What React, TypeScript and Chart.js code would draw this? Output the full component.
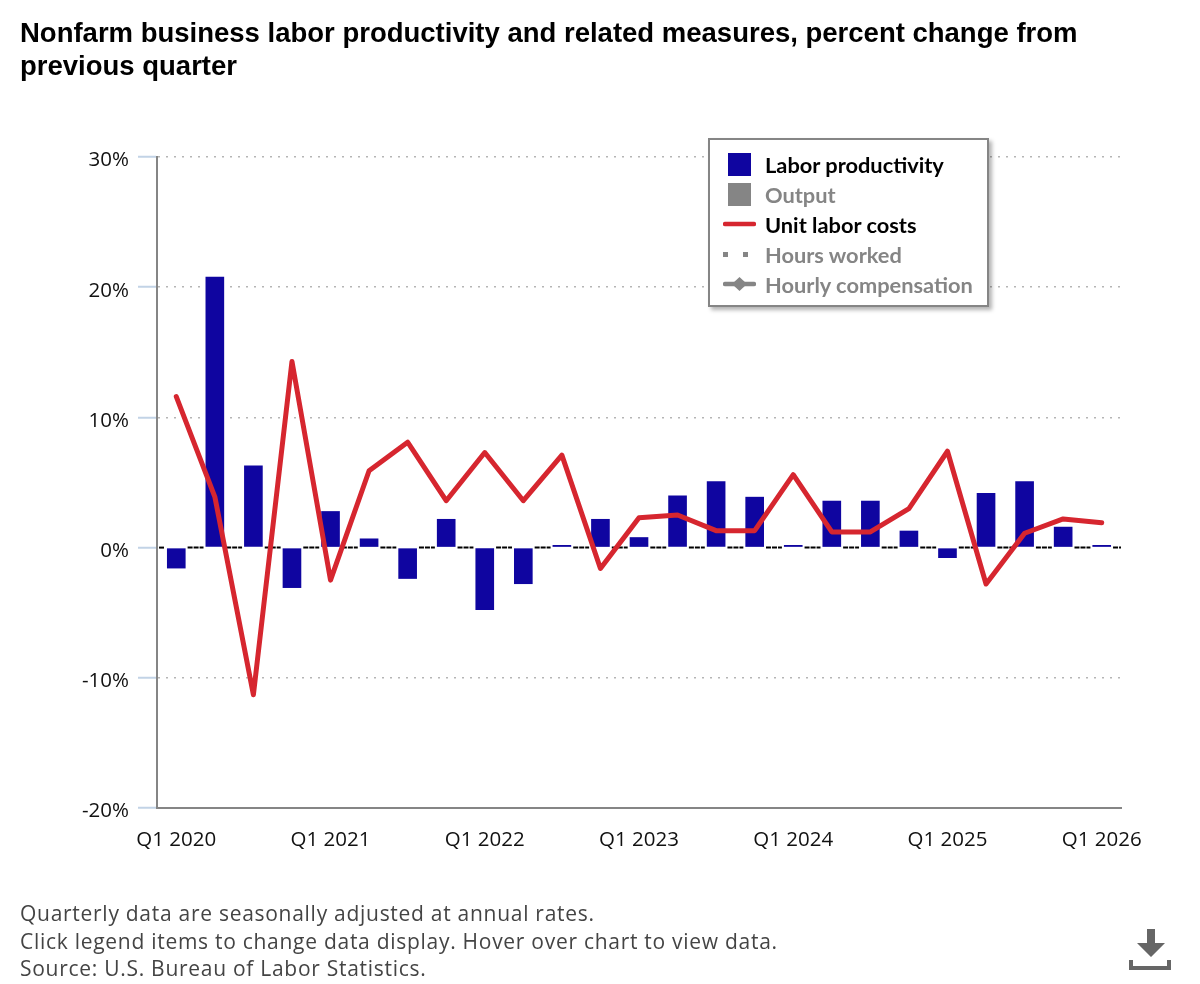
import { useEffect, useRef } from "react";
import { Chart, registerables } from "chart.js";

Chart.register(...registerables);

const quarters = [
  "Q1 2020", "Q2 2020", "Q3 2020", "Q4 2020",
  "Q1 2021", "Q2 2021", "Q3 2021", "Q4 2021",
  "Q1 2022", "Q2 2022", "Q3 2022", "Q4 2022",
  "Q1 2023", "Q2 2023", "Q3 2023", "Q4 2023",
  "Q1 2024", "Q2 2024", "Q3 2024", "Q4 2024",
  "Q1 2025", "Q2 2025", "Q3 2025", "Q4 2025",
  "Q1 2026",
];
const laborProductivity = [
  -1.6, 20.8, 6.3, -3.1, 2.8, 0.7, -2.4, 2.2, -4.8, -2.8, 0.2, 2.2, 0.8, 4.0,
  5.1, 3.9, 0.2, 3.6, 3.6, 1.3, -0.8, 4.2, 5.1, 1.6, 0.2,
];
const unitLaborCosts = [
  11.6, 3.9, -11.3, 14.3, -2.5, 5.9, 8.1, 3.6, 7.3, 3.6, 7.1, -1.6, 2.3, 2.5,
  1.3, 1.3, 5.6, 1.2, 1.2, 3.0, 7.4, -2.8, 1.1, 2.2, 1.9,
];
const titleLines = [
  "Nonfarm business labor productivity and related measures, percent change from",
  "previous quarter",
];
const footerLines = [
  "Quarterly data are seasonally adjusted at annual rates.",
  "Click legend items to change data display. Hover over chart to view data.",
  "Source: U.S. Bureau of Labor Statistics.",
];

const BLUE = "#0f05a0";
const RED = "#d6262f";
const GREY = "#858585";

// dashed zero line, only in the gaps between the bars
const zeroLinePlugin = {
  id: "zeroLine",
  beforeDatasetsDraw(chart: any) {
    const { ctx, chartArea, scales } = chart;
    const y = scales.y.getPixelForValue(0);
    const barMeta = chart.getDatasetMeta(1);
    const bars = barMeta.data;
    ctx.save();
    ctx.strokeStyle = "#000";
    ctx.lineWidth = 2;
    ctx.setLineDash([5, 1]);
    let start = chartArea.left + 2;
    bars.forEach((bar: any) => {
      const halfWidth = bar.width / 2;
      ctx.beginPath();
      ctx.moveTo(start, y);
      ctx.lineTo(bar.x - halfWidth - 2, y);
      ctx.stroke();
      start = bar.x + halfWidth + 2;
    });
    ctx.beginPath();
    ctx.moveTo(start, y);
    ctx.lineTo(chartArea.right, y);
    ctx.stroke();
    ctx.restore();
  },
};

const Swatch = ({ kind }: { kind: string }) => {
  if (kind === "bar" || kind === "barGrey") {
    return (
      <div
        style={{
          width: 23,
          height: 23,
          marginLeft: 5,
          background: kind === "bar" ? BLUE : GREY,
        }}
      />
    );
  }
  return (
    <svg width="33" height="14" viewBox="0 0 33 14" style={{ display: "block" }}>
      {kind === "line" && (
        <line x1="2" y1="7" x2="31" y2="7" stroke={RED} strokeWidth="4.5" strokeLinecap="round" />
      )}
      {kind === "dots" && (
        <>
          <rect x="0" y="5" width="5" height="5" fill={GREY} />
          <rect x="20" y="5" width="5" height="5" fill={GREY} />
        </>
      )}
      {kind === "diamond" && (
        <>
          <line x1="2" y1="7" x2="31" y2="7" stroke={GREY} strokeWidth="4.5" strokeLinecap="round" />
          <path d="M16.5 0 L24 7 L16.5 14 L9 7 Z" fill={GREY} />
        </>
      )}
    </svg>
  );
};

const legendItems = [
  { label: "Labor productivity", kind: "bar", active: true },
  { label: "Output", kind: "barGrey", active: false },
  { label: "Unit labor costs", kind: "line", active: true },
  { label: "Hours worked", kind: "dots", active: false },
  { label: "Hourly compensation", kind: "diamond", active: false },
];

export default function App() {
  const chartRef = useRef<HTMLCanvasElement>(null);

  useEffect(() => {
    document.body.style.margin = "0";
    if (!chartRef.current) return;

    const chart = new Chart(chartRef.current, {
      type: "bar",
      plugins: [zeroLinePlugin],
      data: {
        labels: quarters,
        datasets: [
          {
            type: "line",
            label: "Unit labor costs",
            data: unitLaborCosts,
            borderColor: RED,
            borderWidth: 5,
            borderJoinStyle: "round",
            borderCapStyle: "round",
            pointRadius: 0,
            tension: 0,
            order: 1,
          },
          {
            type: "bar",
            label: "Labor productivity",
            data: laborProductivity,
            backgroundColor: BLUE,
            borderWidth: 0,
            barPercentage: 0.93,
            categoryPercentage: 0.52,
            order: 2,
          },
        ],
      },
      options: {
        responsive: false,
        animation: false,
        layout: { padding: { top: 157, right: 79, bottom: 0, left: 0 } },
        plugins: {
          legend: { display: false },
          title: { display: false },
          tooltip: { enabled: false },
        },
        scales: {
          x: {
            grid: { display: false },
            border: { color: GREY, width: 2 },
            afterFit: (scale: any) => {
              scale.height = 984 - 808;
            },
            ticks: {
              autoSkip: false,
              maxRotation: 0,
              padding: 12,
              color: "#111",
              font: { family: "'Open Sans'", size: 20.5 },
              callback: (_v: any, i: number) =>
                i % 4 === 0 ? quarters[i] : "",
            },
          },
          y: {
            min: -20,
            max: 30,
            afterFit: (scale: any) => {
              scale.width = 157;
            },
            border: { color: GREY, width: 2, dash: [2, 6] },
            grid: {
              color: (ctx: any) =>
                ctx.tick?.value === 0 ? "rgba(0,0,0,0)" : "#b5b5b5",
              lineWidth: 1.5,
              tickLength: 19,
              tickColor: "#c2d3e6",
              tickWidth: 2,
              tickBorderDash: [],
            },
            ticks: {
              stepSize: 10,
              padding: 9,
              labelOffset: 3.5,
              color: "#111",
              font: { family: "'Open Sans'", size: 20.5 },
              callback: (v: any) => `${v}%`,
            },
          },
        },
      },
    });
    return () => chart.destroy();
  }, []);

  return (
    <div style={{ position: "relative", width: 1200, height: 984, overflow: "hidden", background: "#fff" }}>
      <canvas ref={chartRef} width={1200} height={984} style={{ display: "block" }} />
      <div
        style={{
          position: "absolute",
          left: 20,
          top: 16,
          whiteSpace: "nowrap",
          font: "bold 27.5px/33px 'Liberation Sans'",
          color: "#000",
        }}
      >
        {titleLines.map((line) => (
          <div key={line}>{line}</div>
        ))}
      </div>
      <div
        style={{
          position: "absolute",
          left: 708,
          top: 138,
          width: 281,
          height: 169,
          boxSizing: "border-box",
          border: `2px solid ${GREY}`,
          background: "#fff",
          boxShadow: "3px 3px 4px rgba(0,0,0,0.3)",
        }}
      >
        {legendItems.map((item, i) => (
          <div
            key={item.label}
            style={{
              position: "absolute",
              left: 13,
              top: 9 + i * 30,
              height: 30,
              display: "flex",
              alignItems: "center",
            }}
          >
            <div style={{ width: 42 }}>
              <Swatch kind={item.kind} />
            </div>
            <span
              style={{
                font: "bold 21.8px 'Lato'",
                color: item.active ? "#000" : GREY,
                whiteSpace: "nowrap",
              }}
            >
              {item.label}
            </span>
          </div>
        ))}
      </div>
      <div
        style={{
          position: "absolute",
          left: 20,
          top: 900,
          font: "21px/27.5px 'Open Sans'",
          letterSpacing: 0.72,
          color: "#444",
        }}
      >
        {footerLines.map((line) => (
          <div key={line}>{line}</div>
        ))}
      </div>
      <svg
        width="42"
        height="44"
        viewBox="0 0 42 44"
        style={{ position: "absolute", left: 1129, top: 928 }}
      >
        <path d="M18 1 H26 V15 H36 L22 29 L8 15 H18 Z" fill="#666" />
        <path d="M0 32 V42 H42 V32 H38 V38 H4 V32 Z" fill="#666" />
      </svg>
    </div>
  );
}
